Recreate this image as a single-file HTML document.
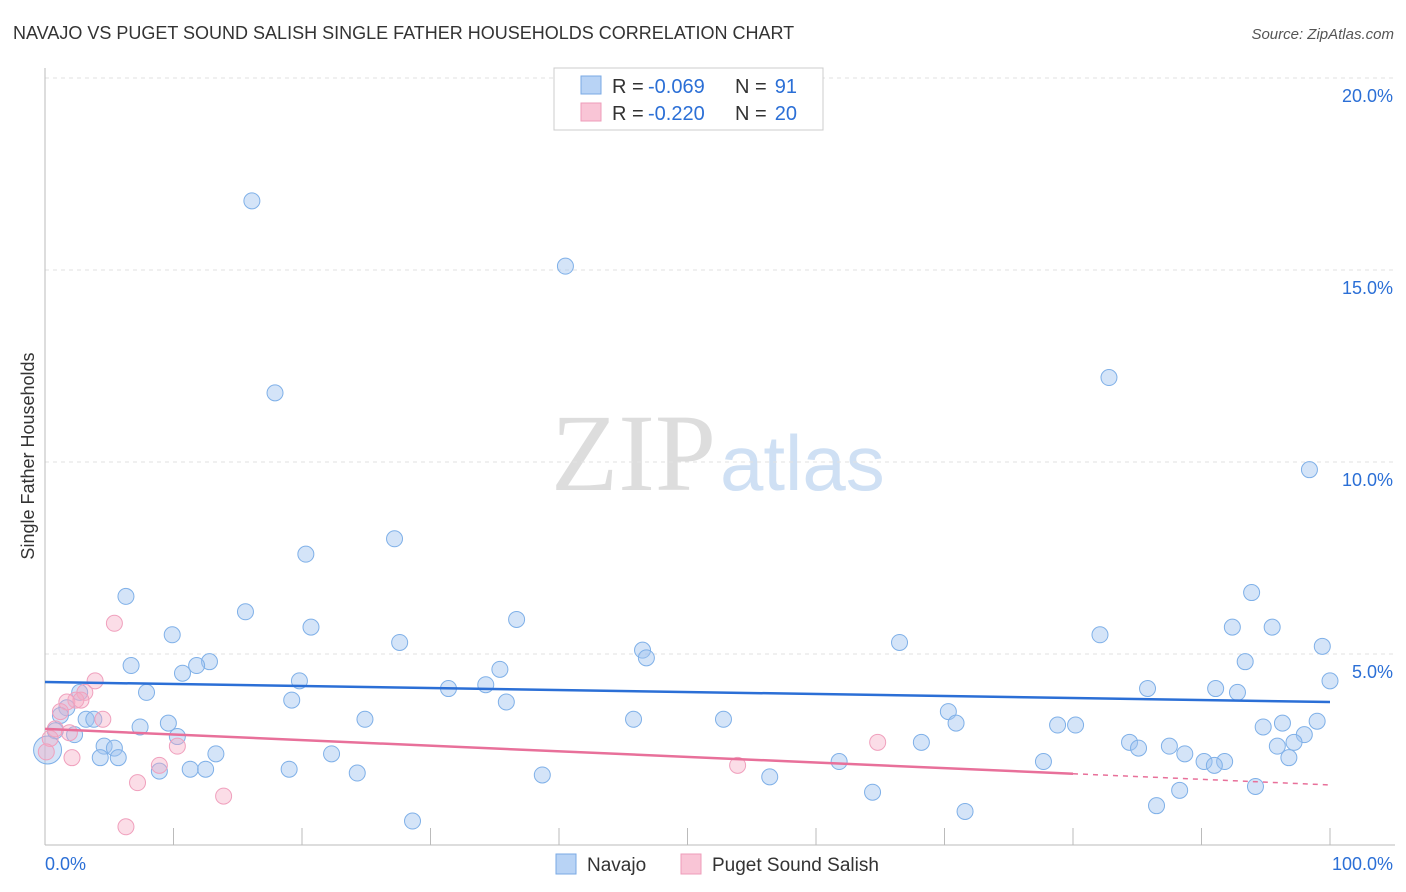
<!DOCTYPE html>
<html><head><meta charset="utf-8"><style>
body{margin:0;background:#fff;font-family:"Liberation Sans",sans-serif;}
</style></head><body>
<svg id="chart" width="1406" height="892" xmlns="http://www.w3.org/2000/svg" style="display:block">
<text x="13" y="39" font-size="18" fill="#333">NAVAJO VS PUGET SOUND SALISH SINGLE FATHER HOUSEHOLDS CORRELATION CHART</text>
<text x="1394" y="39" font-size="15" fill="#555" text-anchor="end" font-style="italic">Source: ZipAtlas.com</text>
<text x="716" y="490" font-size="110" text-anchor="end" fill="#ddd" font-family="Liberation Serif">ZIP</text>
<text x="720" y="490" font-size="78" fill="#cfe0f4">atlas</text>
<text transform="translate(34,456) rotate(-90)" font-size="18" fill="#333" text-anchor="middle">Single Father Households</text>
<g id="grid"></g><g id="axes"></g><g id="marks"></g>
<g>
<rect x="554" y="68" width="269" height="62" fill="#fff" stroke="#ccc"/>
<rect x="581" y="76" width="20" height="18" fill="#b8d3f5" stroke="#7aa9e4"/>
<rect x="581" y="103" width="20" height="18" fill="#f9c5d6" stroke="#ee9cba"/>
<text x="612" y="93" font-size="20" fill="#333">R =</text>
<text x="648" y="93" font-size="20" fill="#2b6fd6">-0.069</text>
<text x="735" y="93" font-size="20" fill="#333">N =</text>
<text x="797" y="93" font-size="20" fill="#2b6fd6" text-anchor="end">91</text>
<text x="612" y="120" font-size="20" fill="#333">R =</text>
<text x="648" y="120" font-size="20" fill="#2b6fd6">-0.220</text>
<text x="735" y="120" font-size="20" fill="#333">N =</text>
<text x="797" y="120" font-size="20" fill="#2b6fd6" text-anchor="end">20</text>
</g>
<g>
<rect x="556" y="854" width="20" height="20" fill="#b8d3f5" stroke="#7aa9e4"/>
<text x="587" y="871" font-size="19" fill="#333">Navajo</text>
<rect x="681" y="854" width="20" height="20" fill="#f9c5d6" stroke="#ee9cba"/>
<text x="712" y="871" font-size="19" fill="#333">Puget Sound Salish</text>
</g>
</svg>
<script>
const yTicks=[5,10,15,20];
const yTickLabels=["5.0%","10.0%","15.0%","20.0%"];
const xTicks=[0,10,20,30,40,50,60,70,80,90,100];
const navajoX=[16.1,40.5,17.9,82.8,98.4,27.2,20.3,6.3,15.6,36.7,20.7,9.9,27.6,82.1,92.4,95.5,93.9,66.5,99.4,46.5,46.8,12.8,11.8,6.7,10.7,35.4,93.4,100,19.8,31.4,34.3,7.9,2.7,85.8,91.1,92.8,19.2,35.9,1.7,1.2,3.2,3.8,24.9,45.8,52.8,7.4,9.6,70.3,70.9,78.8,80.2,94.8,96.3,99.0,0.8,2.3,10.3,98.0,68.2,84.4,85.1,87.5,95.9,97.2,4.6,5.4,13.3,22.3,4.3,5.7,88.7,90.2,91.8,91.0,96.8,61.8,77.7,11.3,12.5,8.9,19.0,24.3,38.7,56.4,94.2,64.4,88.3,86.5,71.6,28.6,0.2];
const navajoY=[16.8,15.1,11.8,12.2,9.8,8.0,7.6,6.5,6.1,5.9,5.7,5.5,5.3,5.5,5.7,5.7,6.6,5.3,5.2,5.1,4.9,4.8,4.7,4.7,4.5,4.6,4.8,4.3,4.3,4.1,4.2,4.0,4.0,4.1,4.1,4.0,3.8,3.75,3.6,3.4,3.3,3.3,3.3,3.3,3.3,3.1,3.2,3.5,3.2,3.15,3.15,3.1,3.2,3.25,3.0,2.9,2.85,2.9,2.7,2.7,2.55,2.6,2.6,2.7,2.6,2.55,2.4,2.4,2.3,2.3,2.4,2.2,2.2,2.1,2.3,2.2,2.2,2.0,2.0,1.95,2.0,1.9,1.85,1.8,1.55,1.4,1.45,1.05,0.9,0.65,2.5];
const salishX=[5.4,3.9,3.1,2.4,1.7,2.8,1.2,4.5,0.8,1.9,0.4,0.1,2.1,8.9,10.3,7.2,13.9,6.3,64.8,53.9];
const salishY=[5.8,4.3,4.0,3.8,3.75,3.8,3.5,3.3,3.05,2.95,2.8,2.45,2.3,2.1,2.6,1.65,1.3,0.5,2.7,2.1];
const navajoTrend=[4.27,3.75];
const salishTrend=[3.05,1.59];
const salishSolidEnd=80;

const NS="http://www.w3.org/2000/svg";
const X=v=>45+v*12.85, Y=v=>846-v*38.4;
function el(tag,attrs,parent){const e=document.createElementNS(NS,tag);for(const k in attrs)e.setAttribute(k,attrs[k]);document.getElementById(parent).appendChild(e);return e;}
yTicks.forEach((t,i)=>{
  const g=el('line',{x1:45,x2:1395,y1:Y(t),y2:Y(t),stroke:'#e2e2e2','stroke-dasharray':'4,4'},'grid');
  
  
  const l=el('text',{x:1393,y:Y(t)+24,'font-size':18,fill:'#2b6fd6','text-anchor':'end'},'grid');
  l.textContent=yTickLabels[i];
  
  
});
const ax=el('line',{x1:45,x2:45,y1:68,y2:845,stroke:'#bbb'},'axes');


const bx=el('line',{x1:45,x2:1395,y1:845,y2:845,stroke:'#bbb'},'axes');


xTicks.slice(1).forEach(t=>{
  const tk=el('line',{x1:X(t),x2:X(t),y1:828,y2:845,stroke:'#bbb'},'axes');
  
  
});
const x0=el('text',{x:45,y:870,'font-size':18,fill:'#2b6fd6'},'axes');x0.textContent='0.0%';


const x1=el('text',{x:1393,y:870,'font-size':18,fill:'#2b6fd6','text-anchor':'end'},'axes');x1.textContent='100.0%';


navajoX.forEach((v,i)=>{
  const big=i===navajoX.length-1;
  const c=el('circle',{cx:X(v),cy:Y(navajoY[i]),r:big?14:8,fill:'rgba(160,195,240,0.45)',stroke:'#7fb0e8','stroke-width':1},'marks');
  
  
});
salishX.forEach((v,i)=>{
  const c=el('circle',{cx:X(v),cy:Y(salishY[i]),r:8,fill:'rgba(245,170,195,0.4)',stroke:'#f0a0bd','stroke-width':1},'marks');
  
  
});
const bl=el('line',{x1:X(0),y1:Y(navajoTrend[0]),x2:X(100),y2:Y(navajoTrend[1]),stroke:'#2b6fd6','stroke-width':2.5},'marks');


const sy=t=>salishTrend[0]+(salishTrend[1]-salishTrend[0])*t/100;
const pl=el('line',{x1:X(0),y1:Y(sy(0)),x2:X(salishSolidEnd),y2:Y(sy(salishSolidEnd)),stroke:'#e8709a','stroke-width':2.5},'marks');


const pd=el('line',{x1:X(salishSolidEnd),y1:Y(sy(salishSolidEnd)),x2:X(100),y2:Y(sy(100)),stroke:'#e8709a','stroke-width':1.5,'stroke-dasharray':'5,5'},'marks');


</script>
</body></html>
